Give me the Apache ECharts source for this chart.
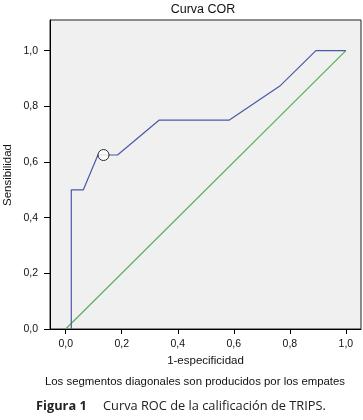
<!DOCTYPE html>
<html>
<head>
<meta charset="utf-8">
<script src="https://cdn.jsdelivr.net/npm/echarts@6/dist/echarts.min.js"></script>
<style>
html,body{margin:0;padding:0;background:#fff;}
#c{width:363px;height:420px;}
</style>
</head>
<body>
<div id="c"></div>
<script>
// ROC curve (1-specificity, sensitivity)
var rocX = [0.02, 0.02, 0.063, 0.115, 0.185, 0.333, 0.583, 0.767, 0.893, 1.0];
var rocY = [0.0, 0.5, 0.5, 0.625, 0.625, 0.75, 0.75, 0.875, 1.0, 1.0];
// Reference diagonal
var refX = [0, 1];
var refY = [0, 1];
// Highlighted cut-off point
var cutX = [0.135];
var cutY = [0.625];
// Tick values
var tickValues = [0, 0.2, 0.4, 0.6, 0.8, 1.0];

function zip(a, b) { return a.map(function (v, i) { return [v, b[i]]; }); }
function fmt(v) { return v.toFixed(1).replace('.', ','); }

var chart = echarts.init(document.getElementById('c'), null, {renderer: 'canvas'});
var font = '"Liberation Sans", Arial, sans-serif';
chart.setOption({
  animation: false,
  backgroundColor: '#fff',
  title: {
    text: 'Curva COR',
    left: 203, top: 3, padding: 0, textAlign: 'center',
    textStyle: {fontFamily: font, fontSize: 12.5, fontWeight: 'normal', color: '#111'}
  },
  grid: {
    left: 50, top: 20, right: 2, bottom: 91,
    show: true, backgroundColor: '#f0f0f0', borderColor: '#222', borderWidth: 1
  },
  xAxis: {
    type: 'value', min: -0.056, max: 1.054,
    name: '1-especificidad', nameLocation: 'middle', nameGap: 23,
    nameTextStyle: {fontFamily: font, fontSize: 11.5, color: '#111'},
    axisLine: {show: true, onZero: false, lineStyle: {color: '#000', width: 1}},
    axisTick: {show: true, length: 5, lineStyle: {color: '#000'}, customValues: tickValues},
    axisLabel: {fontFamily: font, fontSize: 10.5, color: '#111', margin: 10,
      customValues: tickValues, formatter: fmt},
    splitLine: {show: false}
  },
  yAxis: {
    type: 'value', min: 0, max: 1.11,
    axisLine: {show: true, onZero: false, lineStyle: {color: '#000', width: 1}},
    axisTick: {show: true, length: 6, lineStyle: {color: '#000'}, customValues: tickValues},
    axisLabel: {fontFamily: font, fontSize: 10.5, color: '#111', margin: 12,
      customValues: tickValues, formatter: fmt},
    splitLine: {show: false}
  },
  series: [
    {type: 'line', data: zip(refX, refY), symbol: 'none',
      lineStyle: {color: '#55b055', width: 1.2}, z: 2},
    {type: 'line', data: zip(rocX, rocY), symbol: 'none',
      lineStyle: {color: '#4a58a8', width: 1.2}, z: 3},
    {type: 'scatter', data: zip(cutX, cutY), symbol: 'circle', symbolSize: 11,
      itemStyle: {color: '#fff', borderColor: '#000', borderWidth: 1}, z: 4}
  ],
  graphic: [
    {type: 'text', x: 8, y: 175, rotation: Math.PI / 2,
      style: {text: 'Sensibilidad', font: '11.5px ' + font, fill: '#111',
        align: 'center', verticalAlign: 'middle'}},
    {type: 'text', x: 195, y: 382,
      style: {text: 'Los segmentos diagonales son producidos por los empates',
        font: '11.4px ' + font, fill: '#111', align: 'center', verticalAlign: 'middle'}},
    {type: 'text', x: 36, y: 406,
      style: {text: '{b|Figura 1}{n|Curva ROC de la calificación de TRIPS.}',
        verticalAlign: 'middle',
        rich: {
          b: {fontFamily: '"Open Sans", sans-serif', fontSize: 12.8, fontWeight: 'bold', fill: '#222', width: 67},
          n: {fontFamily: '"Open Sans", sans-serif', fontSize: 12.8, fill: '#222'}
        }}}
  ]
});
</script>
</body>
</html>
